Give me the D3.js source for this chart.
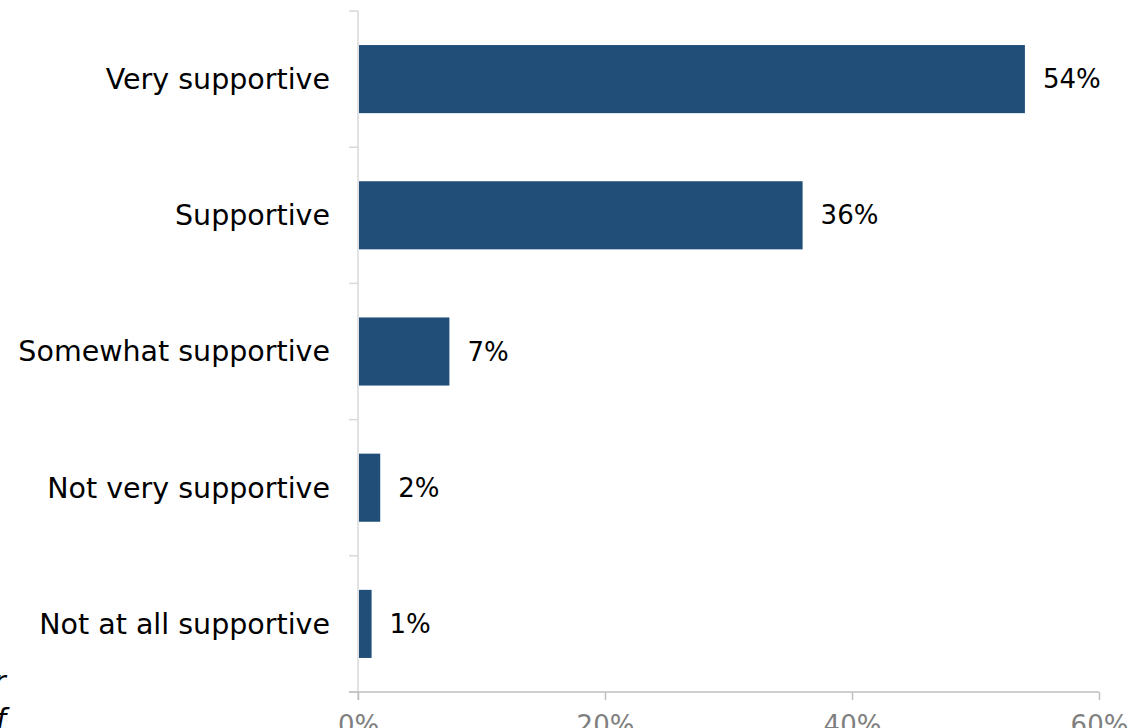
<!DOCTYPE html>
<html>
<head>
<meta charset="utf-8">
<script src="https://cdn.jsdelivr.net/npm/d3@7"></script>
<style>
  html, body { margin: 0; padding: 0; background: #ffffff; }
  svg { display: block; }
  text { font-family: "Century Gothic", "DejaVu Sans", sans-serif; }
</style>
</head>
<body>
<svg id="chart" width="1138" height="728"></svg>
<script>
const categories = ["Very supportive", "Supportive", "Somewhat supportive", "Not very supportive", "Not at all supportive"];
const values = [54, 36, 7.4, 1.8, 1.1];
const xTicks = [0, 20, 40, 60];

const W = 1138, H = 728;
const svg = d3.select("#chart");

const x = d3.scaleLinear().domain([0, 60]).range([358, 1099]);
const y = d3.scaleBand().domain(categories).range([11, 692]).paddingInner(0.5).paddingOuter(0.25);
const step = y.step();
const fontSize = 28.5;
const valueFontSize = 26;

// vertical axis line
svg.append("line")
  .attr("x1", x(0)).attr("x2", x(0))
  .attr("y1", y.range()[0]).attr("y2", y.range()[1] + 8)
  .attr("stroke", "#d9d9d9").attr("stroke-width", 1.5);

// y ticks at band boundaries
const boundaries = d3.range(categories.length + 1).map(i => y.range()[0] + i * step);
svg.selectAll(".ytick").data(boundaries).enter().append("line")
  .attr("x1", x(0) - 9).attr("x2", x(0))
  .attr("y1", d => d).attr("y2", d => d)
  .attr("stroke", "#d9d9d9").attr("stroke-width", 1.5);

// x axis
const xAxis = d3.axisBottom(x).tickValues(xTicks).tickFormat(d => d + "%").tickSize(8).tickPadding(16).tickSizeOuter(0);
const gx = svg.append("g").attr("transform", `translate(0,${y.range()[1]})`).call(xAxis);
gx.select(".domain").attr("stroke", "#bfbfbf").attr("stroke-width", 1.5)
  .attr("d", `M${x(0) - 9},0H${x(60)}`);
gx.selectAll(".tick line").attr("stroke", "#bfbfbf").attr("stroke-width", 1.5);
gx.selectAll(".tick text").attr("fill", "#7f7f7f")
  .style("font-size", valueFontSize + "px")
  .style("font-family", '"Century Gothic", "DejaVu Sans", sans-serif');

// bars
svg.selectAll(".bar").data(categories).enter().append("rect")
  .attr("x", x(0) + 1)
  .attr("y", d => y(d))
  .attr("width", (d, i) => x(values[i]) - x(0) - 1)
  .attr("height", y.bandwidth())
  .attr("fill", "#204e78");

// category labels
svg.selectAll(".cat").data(categories).enter().append("text")
  .attr("x", 330)
  .attr("y", d => y(d) + y.bandwidth() / 2)
  .attr("dy", "0.35em")
  .attr("text-anchor", "end")
  .attr("fill", "#000")
  .style("font-size", fontSize + "px")
  .text(d => d);

// value labels
svg.selectAll(".val").data(categories).enter().append("text")
  .attr("x", (d, i) => x(values[i]) + 18)
  .attr("y", d => y(d) + y.bandwidth() / 2)
  .attr("dy", "0.35em")
  .attr("fill", "#000")
  .style("font-size", valueFontSize + "px")
  .text((d, i) => d3.format(".0f")(values[i]) + "%");

// clipped fragments of text at the left edge
svg.append("text").attr("x", -6).attr("y", 691).attr("font-style", "italic")
  .style("font-size", fontSize + "px").attr("fill", "#000").text("r");
svg.append("text").attr("x", -4).attr("y", 729).attr("font-style", "italic")
  .style("font-size", fontSize + "px").attr("fill", "#000").text("f");
</script>
</body>
</html>
